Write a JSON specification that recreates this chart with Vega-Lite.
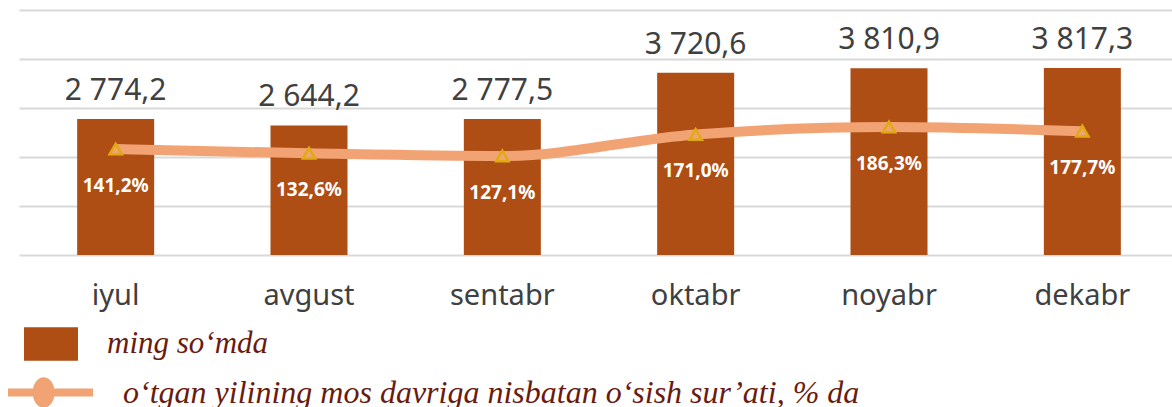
{
  "$schema": "https://vega.github.io/schema/vega-lite/v6.json",
  "width": 1160,
  "height": 245,
  "autosize": "none",
  "padding": {"left": 19, "top": 10, "right": 0, "bottom": 152},
  "background": "white",
  "config": {
    "view": {"stroke": null},
    "locale": {"number": {"decimal": ",", "thousands": " ", "grouping": [3], "currency": ["", "%"]}},
    "font": "Noto Sans"
  },
  "data": {
    "values": [
      {"month": "iyul", "value": 2774.2, "pct": 141.2, "s1": "ming so‘mda", "s2": "o‘tgan yilining mos davriga nisbatan o‘sish sur’ati, % da"},
      {"month": "avgust", "value": 2644.2, "pct": 132.6, "s1": "ming so‘mda", "s2": "o‘tgan yilining mos davriga nisbatan o‘sish sur’ati, % da"},
      {"month": "sentabr", "value": 2777.5, "pct": 127.1, "s1": "ming so‘mda", "s2": "o‘tgan yilining mos davriga nisbatan o‘sish sur’ati, % da"},
      {"month": "oktabr", "value": 3720.6, "pct": 171.0, "s1": "ming so‘mda", "s2": "o‘tgan yilining mos davriga nisbatan o‘sish sur’ati, % da"},
      {"month": "noyabr", "value": 3810.9, "pct": 186.3, "s1": "ming so‘mda", "s2": "o‘tgan yilining mos davriga nisbatan o‘sish sur’ati, % da"},
      {"month": "dekabr", "value": 3817.3, "pct": 177.7, "s1": "ming so‘mda", "s2": "o‘tgan yilining mos davriga nisbatan o‘sish sur’ati, % da"}
    ]
  },
  "encoding": {
    "x": {
      "field": "month", "type": "nominal", "sort": null,
      "scale": {"paddingInner": 0.6, "paddingOuter": 0.3},
      "axis": {"title": null, "domain": false, "ticks": false, "labelAngle": 0, "labelFontSize": 29, "labelColor": "#404040", "labelPadding": 26, "labelFont": "Noto Sans"}
    }
  },
  "layer": [
    {
      "encoding": {
        "y": {"field": "value", "type": "quantitative", "scale": {"domain": [0, 5000], "nice": false},
          "axis": {"title": null, "labels": false, "ticks": false, "domain": false, "grid": true, "gridColor": "#D9D9D9", "gridWidth": 2, "tickCount": 5}}
      },
      "layer": [
        {
          "mark": {"type": "bar", "size": 77},
          "encoding": {
            "fill": {"field": "s1", "type": "nominal", "scale": {"range": ["#AE4D14"]},
              "legend": {"title": null, "orient": "none", "legendX": 5, "legendY": 307,
                "symbolType": "M-1,-0.62 L1,-0.62 L1,0.62 L-1,0.62 Z", "symbolSize": 2916, "symbolStrokeWidth": 0,
                "labelFont": "Liberation Serif", "labelFontStyle": "italic", "labelFontSize": 31, "labelColor": "#6A1B10", "labelOffset": 29, "labelLimit": 1000}}
          }
        },
        {
          "mark": {"type": "text", "baseline": "alphabetic", "dy": -19, "fontSize": 30, "color": "#404040", "font": "Noto Sans"},
          "encoding": {"text": {"field": "value", "type": "quantitative", "format": ",.1f"}}
        }
      ]
    },
    {
      "encoding": {
        "y": {"field": "pct", "type": "quantitative", "scale": {"domain": [-75, 425], "nice": false}, "axis": null}
      },
      "layer": [
        {
          "mark": {"type": "line", "interpolate": "monotone", "strokeWidth": 10},
          "encoding": {
            "stroke": {"field": "s2", "type": "nominal", "scale": {"range": ["#F2A374"]},
              "legend": {"title": null, "orient": "none", "legendX": -11, "legendY": 340,
                "symbolType": "M-1,-0.094 L1,-0.094 L1,0.094 L-1,0.094 Z M-0.42,0 A0.26,0.36 0 1,1 0.1,0 A0.26,0.36 0 1,1 -0.42,0 Z",
                "symbolSize": 7225,
                "labelFont": "Liberation Serif", "labelFontStyle": "italic", "labelFontSize": 32, "labelColor": "#6A1B10", "labelOffset": 30, "labelLimit": 1000,
                "encode": {"symbols": {"update": {"fill": {"value": "#F2A374"}, "strokeWidth": {"value": 0}}}}}}
          }
        },
        {
          "mark": {"type": "point", "shape": "triangle-up", "size": 150, "filled": false, "stroke": "#E0AA10", "strokeWidth": 2.5, "fill": "#F2A374", "fillOpacity": 1, "opacity": 1}
        },
        {
          "mark": {"type": "text", "baseline": "middle", "dy": 37, "fontSize": 19, "fontWeight": "bold", "color": "white", "font": "Noto Sans"},
          "encoding": {"text": {"field": "pct", "type": "quantitative", "format": "$.1f"}}
        }
      ]
    }
  ],
  "resolve": {"scale": {"y": "independent"}}
}
